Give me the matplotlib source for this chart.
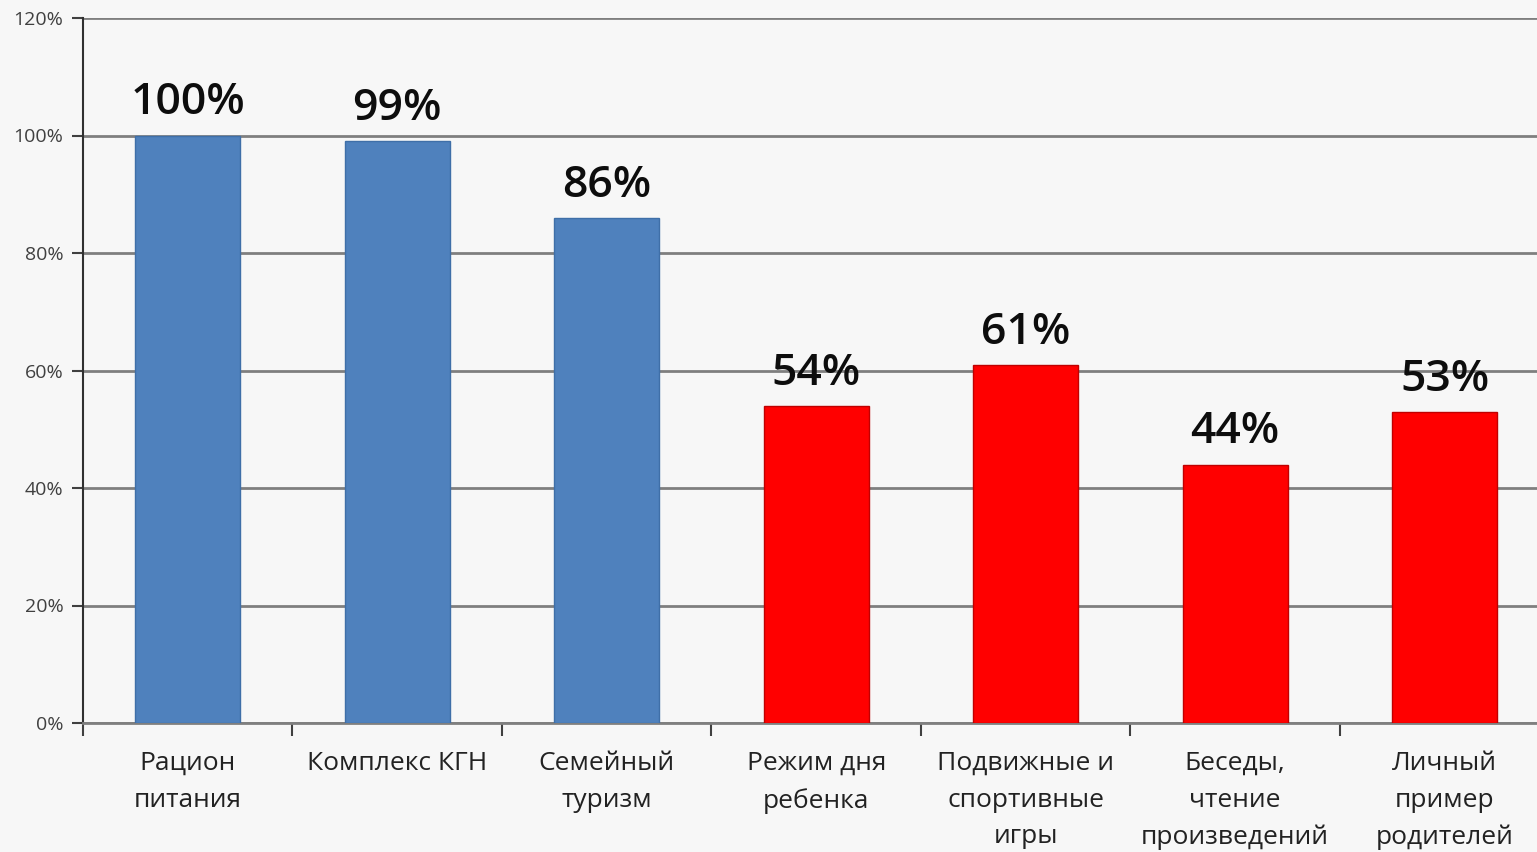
import matplotlib
matplotlib.use("Agg")
import matplotlib.pyplot as plt
import numpy as np

categories = ["Рацион\nпитания", "Комплекс КГН", "Семейный\nтуризм", "Режим дня\nребенка",
              "Подвижные и\nспортивные\nигры", "Беседы,\nчтение\nпроизведений", "Личный\nпример\nродителей"]
values = [100, 99, 86, 54, 61, 44, 53]
colors = ["#4f81bd", "#4f81bd", "#4f81bd", "#ff0000", "#ff0000", "#ff0000", "#ff0000"]
edges = ["#3f6fa8", "#3f6fa8", "#3f6fa8", "#c00000", "#c00000", "#c00000", "#c00000"]
yticks = [0, 20, 40, 60, 80, 100, 120]
ytick_labels = ["0%", "20%", "40%", "60%", "80%", "100%", "120%"]

plt.rcParams['font.family'] = ['Open Sans', 'DejaVu Sans']
bg = "#f7f7f7"
fig = plt.figure(figsize=(15.37, 8.52), dpi=100, facecolor=bg)
ax = fig.add_axes([83/1537, 129/852, 1466.5/1537, 705/852], facecolor=bg)

x = np.arange(len(categories))
ax.bar(x, values, width=0.5, color=colors, edgecolor=edges, linewidth=1, zorder=3)
for xi, v in zip(x, values):
    ax.annotate(f"{v}%", (xi, v), xytext=(0, 8), textcoords="offset points",
                ha="center", va="bottom", fontsize=32, fontweight="semibold", color="#0d0d0d", zorder=5)

ax.set_xlim(-0.5, len(categories) - 0.5)
ax.set_ylim(0, 120)
ax.set_yticks(yticks)
ax.set_yticklabels(ytick_labels, fontsize=14, color="#404040")
ax.yaxis.grid(True, color="#7f7f7f", linewidth=2, zorder=0)
ax.set_axisbelow(True)

ax.set_xticks(x)
ax.set_xticklabels(categories, fontsize=19, color="#222222", linespacing=1.62, va="top")
ax.set_xticks(np.arange(-0.5, len(categories), 1), minor=True)
ax.tick_params(axis="x", which="major", length=0, pad=20)
ax.tick_params(axis="x", which="minor", length=9, width=1.5, color="#404040", direction="out")
ax.tick_params(axis="y", length=8, width=1.5, color="#404040", pad=6)

for s in ["top", "right"]:
    ax.spines[s].set_visible(False)
ax.spines["left"].set_color("#303030")
ax.spines["left"].set_linewidth(1.5)
ax.spines["bottom"].set_color("#7f7f7f")
ax.spines["bottom"].set_linewidth(2)

fig.savefig("out.png", dpi=100, facecolor=bg)
